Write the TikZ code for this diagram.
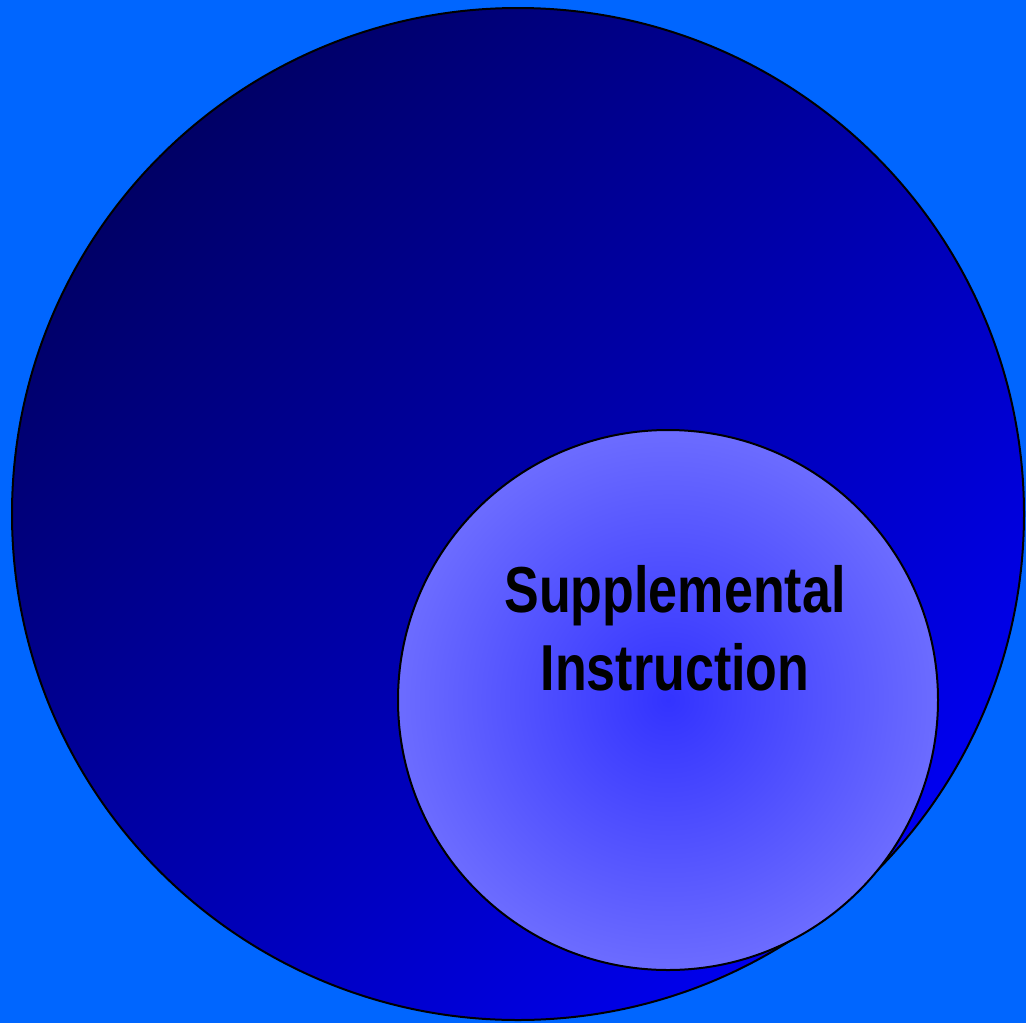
\documentclass[tikz,border=0pt]{standalone}
\usepackage{fontspec}
\setmainfont{Liberation Sans}
\newfontfamily\narrowfont[FakeStretch=0.80]{Liberation Sans}
\usetikzlibrary{positioning}
\definecolor{bgblue}{HTML}{0066FF}
\definecolor{navytop}{HTML}{000066}
\definecolor{navybot}{HTML}{0000F0}
\definecolor{sicore}{HTML}{3333FF}
\definecolor{siedge}{HTML}{6C6CFF}

\begin{document}
\begin{tikzpicture}[x=1pt, y=-1pt, outer node/.style={shape=circle,draw=black,line width=2pt,minimum size=1012pt,inner sep=0,top color=navytop,bottom color=navybot,shading angle=45}, si node/.style={shape=circle,draw=black,line width=2pt,minimum size=540pt,inner sep=0,inner color=sicore,outer color=siedge}, label node/.style={font=\narrowfont\bfseries\fontsize{65}{78}\selectfont,align=center,text=black}, ]
		%background
		\fill[bgblue] (0,0) rectangle (1026,1023);
		\useasboundingbox (0,0) rectangle (1026,1023);
		
		\node[outer node] (outer) at (518,514){};
		\node[si node] (si) at (668,700){};
		\node[label node] (silabel) at (675,628){Supplemental\\Instruction};
		
\end{tikzpicture}
\end{document}
